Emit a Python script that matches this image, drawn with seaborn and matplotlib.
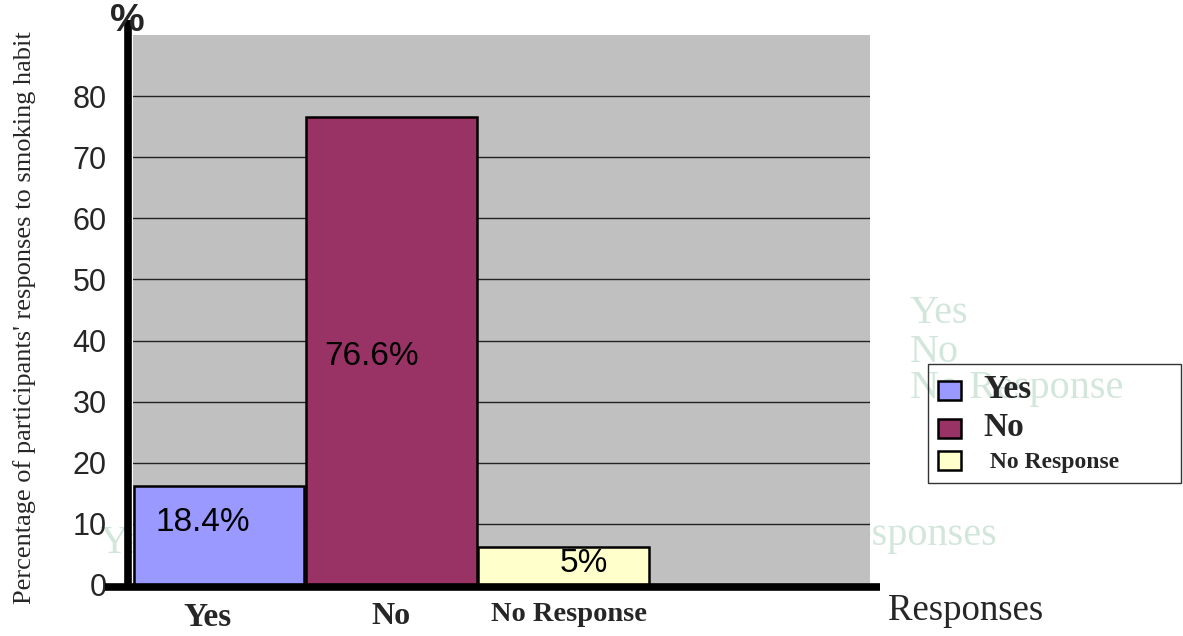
import matplotlib
matplotlib.use("Agg")
import matplotlib.pyplot as plt
import matplotlib.transforms as mtransforms
import seaborn as sns
import pandas as pd
from matplotlib.patches import Patch

# ---- data ----
categories = ["Yes", "No", "No Response"]
bar_heights = [16.2, 76.6, 6.3]          # heights as drawn in the picture
bar_labels = ["18.4%", "76.6%", "5%"]    # printed labels
bar_colors = ["#9999FF", "#993366", "#FFFFCC"]
y_ticks = [0, 10, 20, 30, 40, 50, 60, 70, 80]
legend_labels = ["Yes", "No", " No Response"]

sns.set_theme(style="white")
plt.rcParams["font.family"] = ["Liberation Sans", "DejaVu Sans"]

df = pd.DataFrame({"cat": categories, "val": bar_heights})

fig = plt.figure(figsize=(11.83, 6.36), dpi=100)
ax = fig.add_axes([133 / 1183, 51 / 636, 737 / 1183, 550 / 636])
ax.set_facecolor("#C0C0C0")

sns.barplot(data=df, x="cat", y="val", hue="cat", palette=bar_colors,
            saturation=1, width=0.99, edgecolor="black", linewidth=1.8,
            legend=False, ax=ax, zorder=3)

ax.set_xlim(-0.5, 3.78)
ax.set_ylim(0, 90)
ax.set_yticks(y_ticks)
ax.set_yticklabels([str(t) for t in y_ticks], fontsize=22,
                   fontfamily="Liberation Sans")
for t in y_ticks[1:]:
    ax.axhline(t, color="#222222", lw=1.0, zorder=1)
ax.grid(False)
for s in ax.spines.values():
    s.set_visible(False)
ax.tick_params(axis="y", length=0, pad=19)
ax.tick_params(axis="x", length=0, pad=12)
ax.set_xlabel("")
ax.set_ylabel("")

xt_sizes = [24, 23, 20.5]
xt_shift = [-12, 0, 6]   # pixel offsets of the tick labels
ax.set_xticks(range(len(categories)))
ax.set_xticklabels(categories)
for lab, sz, dx in zip(ax.get_xticklabels(), xt_sizes, xt_shift):
    lab.set_fontfamily("Liberation Serif")
    lab.set_fontweight("bold")
    lab.set_fontsize(sz)
    lab.set_transform(lab.get_transform() +
                      mtransforms.ScaledTranslation(dx / 100, 0, fig.dpi_scale_trans))

# bar value labels
label_pos = [(-0.37, 10.2), (-0.39 + 1.0, 37.4), (-0.02 + 2.0, 3.6)]
for (x, y), txt in zip(label_pos, bar_labels):
    ax.text(x, y, txt, fontsize=24, color="black", ha="left", va="center",
            fontfamily="Liberation Sans", zorder=5)

# thick axis lines
ax.plot([-0.007, -0.007], [0, 1.027], transform=ax.transAxes, color="black",
        lw=5.5, clip_on=False, zorder=6, solid_capstyle="butt")
ax.plot([-0.038, 1.014], [-0.004, -0.004], transform=ax.transAxes,
        color="black", lw=5.5, clip_on=False, zorder=6, solid_capstyle="butt")

# y axis label and units
fig.text(25 / 1183, 318 / 636, "Percentage of participants' responses to smoking habit",
         rotation=90, ha="center", va="center", fontsize=19,
         fontfamily="Liberation Serif")
fig.text(127 / 1183, 1 - 21 / 636, "%", ha="center", va="center", fontsize=28,
         fontweight="bold", fontfamily="Liberation Sans", zorder=7)
fig.text(888 / 1183, 1 - 620 / 636, "Responses", ha="left", va="baseline",
         fontsize=26.5, fontfamily="Liberation Serif")

# faint ghost texts behind the plot
ghost = "#D3E6DC"
for txt, xx, yy in [("Yes", 910, 323), ("No", 910, 362), ("No Response", 910, 398),
                    ("Yes", 99, 553), ("Responses", 828, 545)]:
    fig.text(xx / 1183, 1 - yy / 636, txt, ha="left", va="baseline",
             fontsize=29, fontfamily="Liberation Serif", color=ghost, zorder=-1)

# legend
handles = [Patch(facecolor=c, edgecolor="black", linewidth=1.8) for c in bar_colors]
leg = fig.legend(handles, legend_labels, loc="upper left",
                 bbox_to_anchor=(928 / 1183, 272 / 636, 253 / 1183, 0),
                 mode="expand", frameon=True, fancybox=False,
                 prop={"size": 16},
                 handlelength=1.05, handleheight=0.95, handletextpad=1.0,
                 labelspacing=0.33, borderpad=0.45, borderaxespad=0)
leg.get_frame().set_edgecolor("black")
leg.get_frame().set_linewidth(1.0)
leg.get_frame().set_facecolor("none")
for t, sz in zip(leg.get_texts(), [24, 24, 17]):
    t.set_fontfamily("Liberation Serif")
    t.set_fontweight("bold")
    t.set_fontsize(sz)

fig.savefig("out.png", dpi=100)
